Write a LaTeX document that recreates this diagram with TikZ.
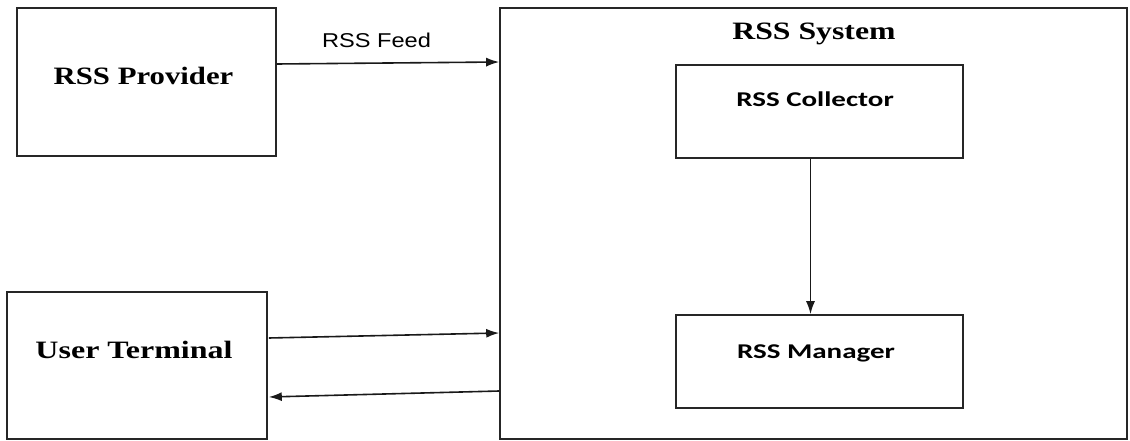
\documentclass[tikz,border=0pt]{standalone}
\usepackage{fontspec}
\usepackage{graphicx}
\setmainfont{Liberation Serif}
\newfontfamily\calibf{Carlito}
\newfontfamily\arialf{Liberation Sans}
\usetikzlibrary{arrows.meta}
\tikzset{
  box/.style={draw=black!85, line width=1.6pt, fill=none, inner sep=0pt},
  serlab/.style={anchor=base, inner sep=0pt, font=\fontsize{25}{30}\selectfont\bfseries},
  callab/.style={anchor=base, inner sep=0pt, font=\fontsize{21}{25}\selectfont\calibf\bfseries},
  arilab/.style={anchor=base, inner sep=0pt, font=\fontsize{20}{24}\selectfont\arialf},
  conn/.style={draw=black!90, line width=1.6pt, -{Latex[length=13pt,width=9pt]}}
}
\begin{document}
\begin{tikzpicture}[x=1pt,y=-1pt]
\useasboundingbox (0,0) rectangle (1130,441);
% boxes
\node[box, minimum width=259pt, minimum height=148pt] (prov) at (146.5,82) {};
\node[box, minimum width=627pt, minimum height=431pt] (sys) at (813.5,223.5) {};
\node[box, minimum width=287pt, minimum height=93pt] (coll) at (819.5,111.5) {};
\node[box, minimum width=287pt, minimum height=93pt] (man) at (819.5,361.5) {};
\node[box, minimum width=260pt, minimum height=147pt] (user) at (137,365.5) {};
% labels
\node[serlab] (provlab) at (143.5,85) {\scalebox{1.23}[1]{RSS Provider}};
\node[serlab] (syslab) at (814,40) {\scalebox{1.27}[1]{RSS System}};
\node[callab] (colllab) at (815,107) {\scalebox{1.38}[1]{RSS Collector}};
\node[callab] (manlab) at (816,358) {\scalebox{1.38}[1]{RSS Manager}};
\node[serlab] (userlab) at (134,358) {\scalebox{1.28}[1]{User Terminal}};
\node[arilab] (feedlab) at (376.5,48) {\scalebox{1.18}[1]{RSS Feed}};
% connectors
\draw[conn] ([yshift=18pt]prov.east) -- ([yshift=161.5pt]sys.west);
\draw[conn] ([xshift=-9pt]coll.south) -- ([xshift=-9pt]man.north);
\draw[conn] ([yshift=27.5pt,xshift=1pt]user.east) -- ([yshift=-109.5pt]sys.west);
\draw[conn] ([yshift=-167.5pt]sys.west) -- ([yshift=-31.5pt,xshift=1pt]user.east);
\end{tikzpicture}
\end{document}
